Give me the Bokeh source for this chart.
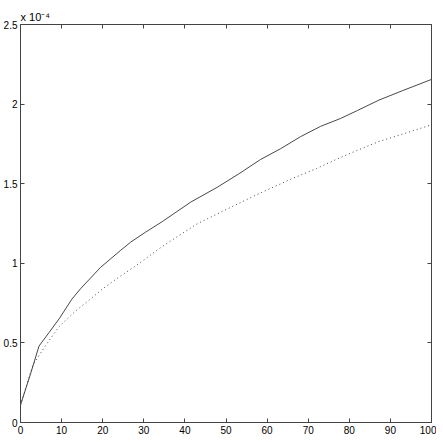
from bokeh.plotting import figure
from bokeh.models import LinearAxis, FixedTicker, Range1d, Title
from bokeh.embed import file_html
from bokeh.resources import INLINE

# data (y in units of 1e-4)
x_solid = [0, 2.5, 4.5, 7, 9.5, 12.5, 14.6, 19.5, 24.3, 26.8, 30.4, 34.5, 41.4, 47.9, 53, 58.4,
           63.3, 68.1, 73, 77.9, 82, 87.2, 93, 100]
y_solid = [0.11, 0.31, 0.48, 0.567, 0.655, 0.775, 0.84, 0.975, 1.08, 1.133, 1.195, 1.262, 1.384, 1.478,
           1.56, 1.652, 1.72, 1.795, 1.86, 1.91, 1.96, 2.025, 2.085, 2.155]
x_dot = [0, 3, 6, 9.3, 13.4, 17, 20, 23.5, 27.5, 30, 33.6, 38, 43, 51, 58, 66, 72, 77.1, 82, 87.2, 94, 100]
y_dot = [0.11, 0.36, 0.48, 0.60, 0.70, 0.775, 0.84, 0.905, 0.975, 1.02, 1.09, 1.165, 1.248, 1.35, 1.437,
         1.531, 1.595, 1.656, 1.71, 1.765, 1.82, 1.87]
x_ticks = [0, 10, 20, 30, 40, 50, 60, 70, 80, 90, 100]
y_ticks = [0, 0.5, 1, 1.5, 2, 2.5]
y_tick_labels = ["0", "0.5", "1", "1.5", "2", "2.5"]
exponent_text = "x 10\u207b\u2074"

FONT = "Liberation Sans"

p = figure(width=436, height=440, output_backend="svg", toolbar_location=None,
           x_range=Range1d(0, 100), y_range=Range1d(0, 2.5),
           min_border_left=20, min_border_right=5, min_border_top=24, min_border_bottom=18,
           x_axis_location=None, y_axis_location=None)
p.grid.visible = False
p.outline_line_color = "#444444"
p.outline_line_width = 1

def style(ax, labels=True):
    ax.major_tick_in = 4
    ax.major_tick_out = 0
    ax.minor_tick_line_color = None
    ax.axis_line_color = "#444444"
    ax.major_tick_line_color = "#444444"
    ax.major_label_text_font = FONT
    ax.major_label_text_font_size = "10px"
    ax.major_label_text_color = "black"
    ax.major_label_standoff = 3
    if not labels:
        ax.major_label_overrides = {t: "" for t in ax.ticker.ticks}
        ax.major_label_standoff = 0

xb = LinearAxis(ticker=FixedTicker(ticks=x_ticks))
style(xb)
p.add_layout(xb, "below")
xa = LinearAxis(ticker=FixedTicker(ticks=x_ticks))
style(xa, labels=False)
p.add_layout(xa, "above")
yl = LinearAxis(ticker=FixedTicker(ticks=y_ticks),
                major_label_overrides={t: s for t, s in zip(y_ticks, y_tick_labels)})
style(yl)
p.add_layout(yl, "left")
yr = LinearAxis(ticker=FixedTicker(ticks=y_ticks))
style(yr, labels=False)
p.add_layout(yr, "right")

p.add_layout(Title(text=exponent_text, align="left", text_font=FONT, text_font_size="11px",
                   text_font_style="normal", text_color="black", standoff=3, offset=0), "above")

p.line(x_solid, y_solid, line_color="#333333", line_width=0.9)
p.line(x_dot, y_dot, line_color="#333333", line_width=0.9, line_dash="1 3")

open("out.html", "w").write(file_html(p, INLINE))
